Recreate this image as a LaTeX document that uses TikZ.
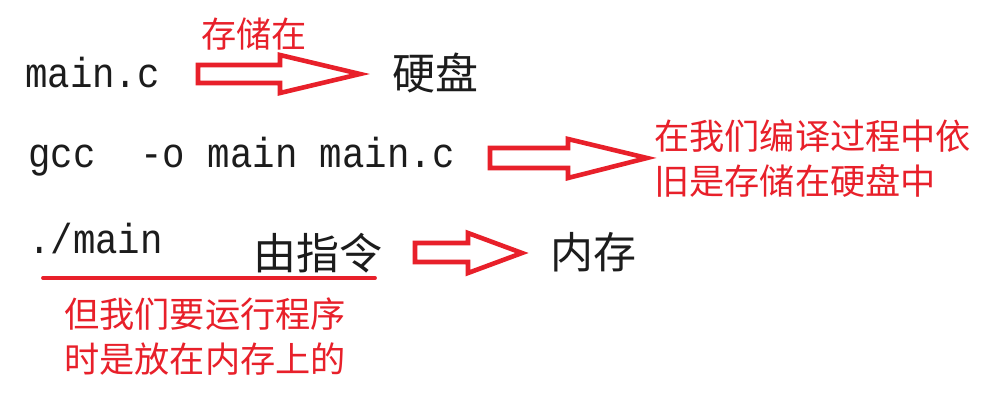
\documentclass[tikz,border=0pt]{standalone}
\usepackage{fontspec}
\setmonofont{Liberation Mono}
\newfontfamily\cjk{Noto Sans CJK SC}
\definecolor{redmark}{HTML}{E8202A}
\definecolor{ink}{HTML}{1C1C1C}
\tikzset{
  code/.style={inner sep=0pt, anchor=base west, text=ink, font=\ttfamily\fontsize{37.4}{44}\selectfont, yscale=1.12, transform shape},
  bigcn/.style={inner sep=0pt, text=ink, font=\cjk\fontsize{43}{50}\selectfont},
  note/.style={inner sep=0pt, text=redmark, align=left, font=\cjk\fontsize{35.2}{44.5}\selectfont},
  blockarrow/.style={draw=redmark, line width=4.6pt, line join=miter, fill=white},
  underl/.style={draw=redmark, line width=3.8pt, line cap=round}
}
\begin{document}
\begin{tikzpicture}[x=1pt,y=-1pt]
\useasboundingbox[fill=white] (0,0) rectangle (985,400);
% row 1
\node[code] (mainc) at (25,87) {main.c};
\node[bigcn] (disk) at (435,73) {硬盘};
\node[note] (store) at (254,34) {存储在};
\draw[blockarrow] (198,65) -- (280,65) -- (280,55) -- (360,74) -- (280,93) -- (280,83) -- (198,83) -- cycle;
% row 2
\node[code] (gcc) at (28,167) {gcc\ \ -o main main.c};
\draw[blockarrow] (490,148) -- (568,148) -- (568,139) -- (647,158) -- (568,178) -- (568,168) -- (490,168) -- cycle;
\node[note, anchor=north west] (compile) at (654,120) {在我们编译过程中依\\旧是存储在硬盘中};
% row 3
\node[code] (run) at (28,253) {./main};
\node[bigcn] (instr) at (318,253) {由指令};
\draw[underl] (43,278) -- (375,278);
\draw[blockarrow] (415,243) -- (468,243) -- (468,233) -- (522,253) -- (468,273) -- (468,262) -- (415,262) -- cycle;
\node[bigcn] (mem) at (593,252) {内存};
\node[note, anchor=north west] (runnote) at (64,298) {但我们要运行程序\\时是放在内存上的};
\end{tikzpicture}
\end{document}
